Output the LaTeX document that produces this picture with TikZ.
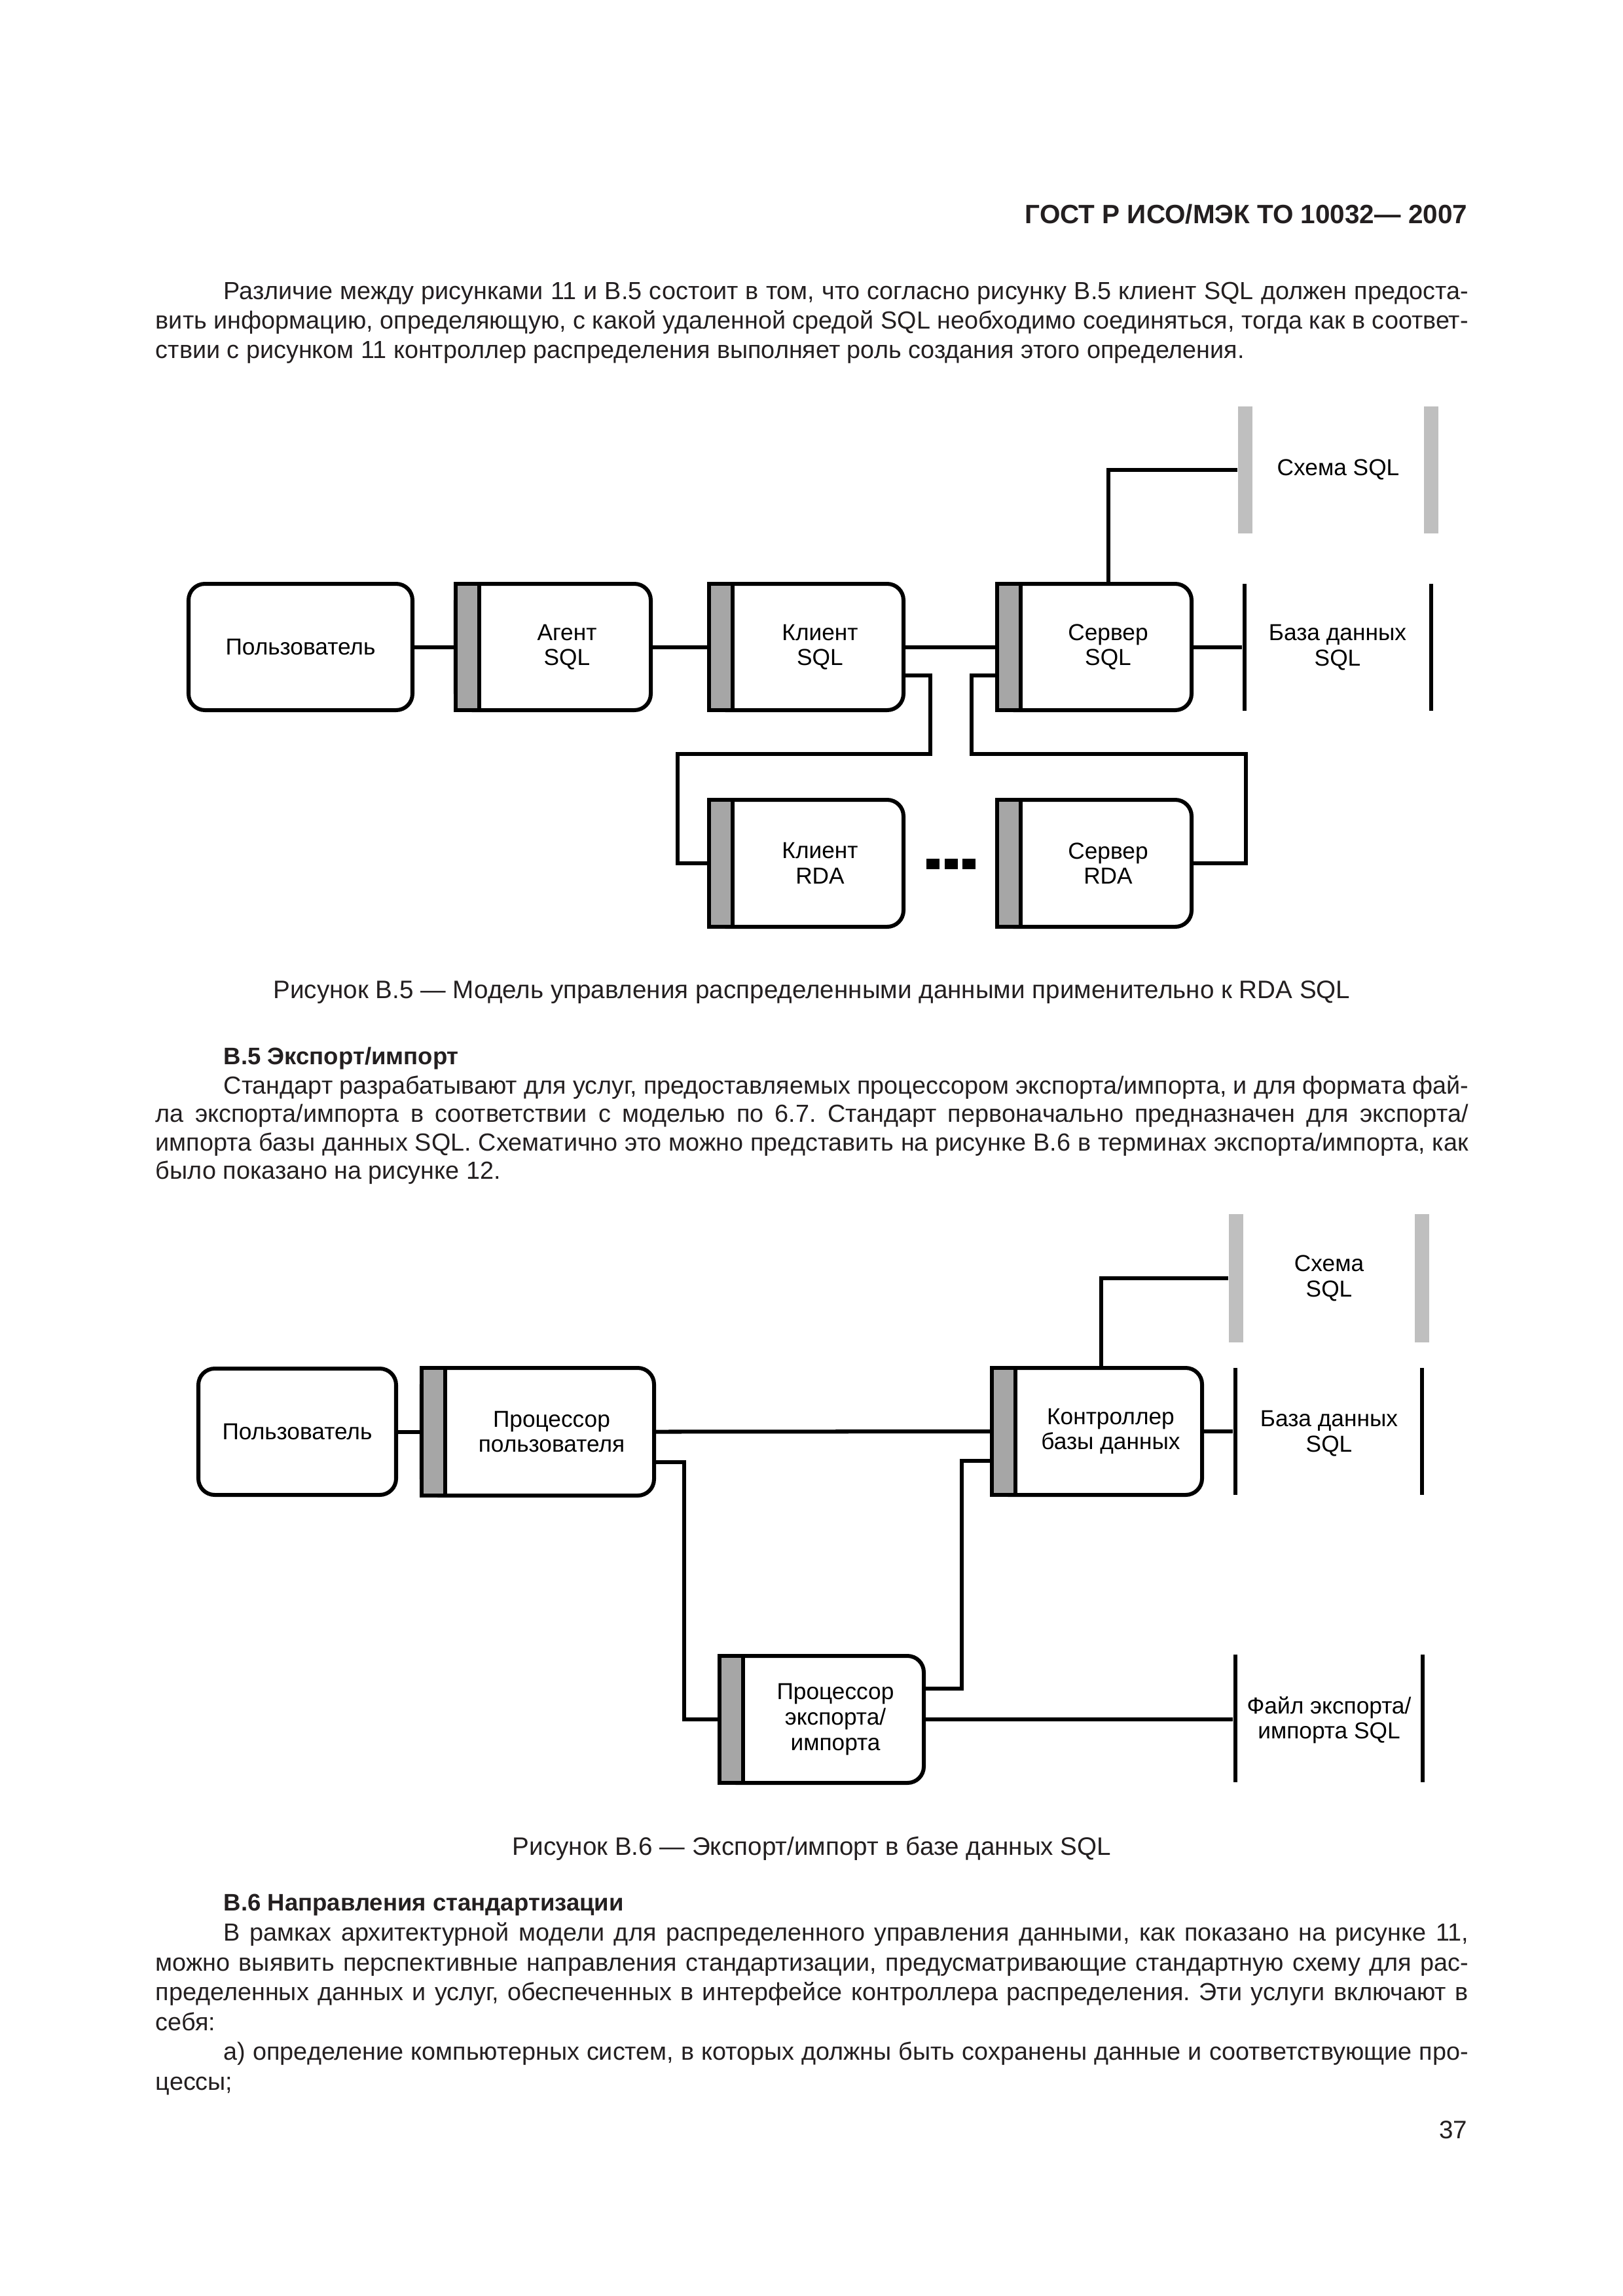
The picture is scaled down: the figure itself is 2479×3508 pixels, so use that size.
\documentclass[tikz,border=0pt]{standalone}
\usepackage{fontspec}
\setmainfont{Liberation Sans}
\usetikzlibrary{calc}
\frenchspacing
\definecolor{bargray}{HTML}{A6A6A6}
\definecolor{storegray}{HTML}{BFBFBF}
\definecolor{ink}{HTML}{231F20}
\def\PX{0.2409pt}
\newcommand\procnode[6]{%
  \node[procbody, minimum width={(#3-#2-6)*\PX}, minimum height={(#5-#4-6)*\PX}] (#1) at ({(#2+#3)/2},{(#4+#5)/2}) {};
  \node[procbar, minimum height={(#5-#4-6)*\PX}] (#1bar) at ({#2+21},{(#4+#5)/2}) {};
  \node[lbl] (#1txt) at ({(#2+42+#3)/2},{(#4+#5)/2}) {#6};}
\tikzset{
  procbody/.style={draw, line width=1.45pt, fill=white, rounded corners=6pt, inner sep=0pt},
  procbar/.style={draw, line width=1.45pt, fill=bargray, inner sep=0pt, minimum width={36*\PX}},
  lbl/.style={align=center, inner sep=0pt, font=\fontsize{8.5}{9.3}\selectfont},
  conn/.style={line width=1.45pt},
  storeline/.style={fill=black, draw=none, inner sep=0pt, minimum width={6*\PX}},
  storebar/.style={fill=storegray, draw=none, inner sep=0pt, minimum width={22*\PX}},
  dotsq/.style={fill=black, draw=none, inner sep=0pt, minimum width={20*\PX}, minimum height={16*\PX}},
  bodytxt/.style={anchor=base west, inner sep=0pt, font=\fontsize{9.1}{10.8}\selectfont, text=ink},
  headtxt/.style={anchor=base west, inner sep=0pt, font=\fontsize{8.8}{10.8}\selectfont\bfseries, text=ink},
  captxt/.style={anchor=base, inner sep=0pt, font=\fontsize{9.3}{10.8}\selectfont, text=ink}
}
\begin{document}
\begin{tikzpicture}[x=0.2409pt, y=-0.2409pt]
\useasboundingbox (0,0) rectangle (2479,3508);
\fill[white] (0,0) rectangle (2479,3508);

% ---------- header and first paragraph ----------
\node[anchor=base east, inner sep=0pt, font=\fontsize{9.75}{11}\selectfont\bfseries, text=ink] (hdr) at (2242,341) {ГОСТ Р ИСО/МЭК ТО 10032— 2007};
\node[bodytxt] (p1a) at (341,457) {\makebox[458pt][s]{Различие между рисунками 11 и В.5 состоит в том, что согласно рисунку В.5 клиент SQL должен предоста-}};
\node[bodytxt] (p1b) at (237,502) {\makebox[483pt][s]{вить информацию, определяющую, с какой удаленной средой SQL необходимо соединяться, тогда как в соответ-}};
\node[bodytxt] (p1c) at (237,547) {ствии с рисунком 11 контроллер распределения выполняет роль создания этого определения.};

% ---------- Figure B.5 ----------
\node[procbody, lbl, minimum width={342*\PX}, minimum height={193*\PX}] (user) at (459,988.5) {Пользователь};
\procnode{agent}{693}{997}{889}{1088}{Агент\\SQL}
\procnode{client}{1080}{1383}{889}{1088}{Клиент\\SQL}
\procnode{server}{1520}{1823}{889}{1088}{Сервер\\SQL}
\procnode{crda}{1080}{1383}{1219}{1419}{Клиент\\RDA}
\procnode{srda}{1520}{1823}{1219}{1419}{Сервер\\RDA}

\node[dotsq] (dot1) at (1425,1320) {};
\node[dotsq] (dot2) at (1453,1320) {};
\node[dotsq] (dot3) at (1480,1320) {};

\node[storebar, minimum height={194*\PX}] (schemaL) at (1902,718) {};
\node[storebar, minimum height={194*\PX}] (schemaR) at (2185.5,718) {};
\node[lbl] (schematxt) at (2044,718) {Схема SQL};
\node[storeline, minimum height={194*\PX}] (dbL) at (1901,989) {};
\node[storeline, minimum height={194*\PX}] (dbR) at (2186,989) {};
\node[lbl] (dbtxt) at (2043,989) {База данных\\SQL};

\draw[conn] (user.east) -- (agentbar.west);
\draw[conn] (agent.east) -- (clientbar.west);
\draw[conn] (client.east) -- (serverbar.west);
\draw[conn] (server.east) -- (server.east -| dbL.west);
\draw[conn] (servertxt |- server.north) |- (schemaL.west);
\draw[conn] ($(client.east)+(0,43)$) -| (1421,1152) -| ($(crdabar.west)+(-45,0)$) -- (crdabar.west);
\draw[conn] ($(serverbar.west)+(0,43)$) -| (1484,1152) -| ($(srda.east)+(80,0)$) -- (srda.east);

\node[captxt] (cap5) at (1240,1525) {Рисунок В.5 — Модель управления распределенными данными применительно к RDA SQL};

% ---------- Section B.5 ----------
\node[headtxt] (h5) at (341,1626) {В.5 Экспорт/импорт};
\node[bodytxt] (p2a) at (341,1671) {\makebox[458pt][s]{Стандарт разрабатывают для услуг, предоставляемых процессором экспорта/импорта, и для формата фай-}};
\node[bodytxt] (p2b) at (237,1714) {\makebox[483pt][s]{ла экспорта/импорта в соответствии с моделью по 6.7. Стандарт первоначально предназначен для экспорта/}};
\node[bodytxt] (p2c) at (237,1758) {\makebox[483pt][s]{импорта базы данных SQL. Схематично это можно представить на рисунке В.6 в терминах экспорта/импорта, как}};
\node[bodytxt] (p2d) at (237,1801) {было показано на рисунке 12.};

% ---------- Figure B.6 ----------
\node[procbody, lbl, minimum width={302*\PX}, minimum height={193*\PX}] (user2) at (454,2187.5) {Пользователь};
\procnode{pu}{641}{1002}{2087}{2288}{Процессор\\пользователя}
\procnode{ctrl}{1512}{1839}{2087}{2287}{Контроллер\\базы данных}
\procnode{ep}{1096}{1414}{2527}{2727}{Процессор\\экспорта/\\импорта}

\node[storebar, minimum height={196*\PX}] (schema2L) at (1887.5,1953) {};
\node[storebar, minimum height={196*\PX}] (schema2R) at (2172,1953) {};
\node[lbl] (schema2txt) at (2030,1953) {Схема\\SQL};
\node[storeline, minimum height={194*\PX}] (db2L) at (1887,2187) {};
\node[storeline, minimum height={194*\PX}] (db2R) at (2172,2187) {};
\node[lbl] (db2txt) at (2030,2190) {База данных\\SQL};
\node[storeline, minimum height={195*\PX}] (fileL) at (1887,2625.5) {};
\node[storeline, minimum height={195*\PX}] (fileR) at (2173,2625.5) {};
\node[lbl] (filetxt) at (2030,2628) {Файл экспорта/\\импорта SQL};

\draw[conn] (user2.east) -- (pubar.west);
\draw[conn] (pu.east) -- (ctrlbar.west);
\draw[conn] ($(pu.east)+(0,46)$) -| ($(epbar.west)+(-51,0)$) -- (epbar.west);
\draw[conn] ($(ctrlbar.west)+(0,45)$) -| ($(ep.east)+(55,-47)$) -- ($(ep.east)+(0,-47)$);
\draw[conn] ($(ctrl.north)+(6,0)$) |- (schema2L.west);
\draw[conn] (ctrl.east) -- (ctrl.east -| db2L.west);
\draw[conn] (ep.east) -- (ep.east -| fileL.west);

\node[captxt] (cap6) at (1240,2834) {Рисунок В.6 — Экспорт/импорт в базе данных SQL};

% ---------- Section B.6 ----------
\node[headtxt] (h6) at (341,2919) {В.6 Направления стандартизации};
\node[bodytxt] (p3a) at (341,2965) {\makebox[458pt][s]{В рамках архитектурной модели для распределенного управления данными, как показано на рисунке 11,}};
\node[bodytxt] (p3b) at (237,3011) {\makebox[483pt][s]{можно выявить перспективные направления стандартизации, предусматривающие стандартную схему для рас-}};
\node[bodytxt] (p3c) at (237,3056) {\makebox[483pt][s]{пределенных данных и услуг, обеспеченных в интерфейсе контроллера распределения. Эти услуги включают в}};
\node[bodytxt] (p3d) at (237,3102) {себя:};
\node[bodytxt] (p3e) at (341,3147) {\makebox[458pt][s]{а) определение компьютерных систем, в которых должны быть сохранены данные и соответствующие про-}};
\node[bodytxt] (p3f) at (237,3193) {цессы;};

\node[anchor=base east, inner sep=0pt, font=\fontsize{9.3}{10.8}\selectfont, text=ink] (pageno) at (2242,3267) {37};
\end{tikzpicture}
\end{document}
